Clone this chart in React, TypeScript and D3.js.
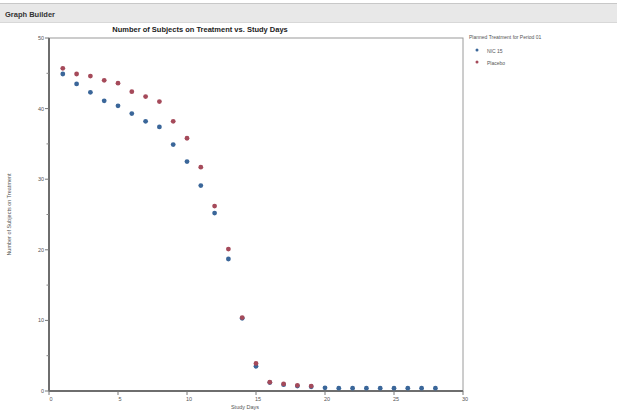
import React from "react";
import * as d3 from "d3";

const days = [1, 2, 3, 4, 5, 6, 7, 8, 9, 10, 11, 12, 13, 14, 15, 16, 17, 18, 19, 20, 21, 22, 23, 24, 25, 26, 27, 28];
const nic15 = [44.9, 43.5, 42.3, 41.1, 40.4, 39.3, 38.2, 37.4, 34.9, 32.5, 29.1, 25.2, 18.7, 10.3, 3.5, 1.2, 0.9, 0.7, 0.6, 0.45, 0.4, 0.4, 0.4, 0.4, 0.4, 0.4, 0.4, 0.4];
const placeboDays = [1, 2, 3, 4, 5, 6, 7, 8, 9, 10, 11, 12, 13, 14, 15, 16, 17, 18, 19];
const placebo = [45.7, 44.9, 44.6, 44.0, 43.6, 42.4, 41.7, 41.0, 38.2, 35.8, 31.7, 26.2, 20.1, 10.4, 3.9, 1.25, 1.0, 0.8, 0.7];
const xTicks = [0, 5, 10, 15, 20, 25, 30];
const yTicks = [0, 10, 20, 30, 40, 50];
const yMinor = [5, 15, 25, 35, 45];
const seriesNames = ["NIC 15", "Placebo"];

const BLUE = "#3a6699";
const RED = "#a54a5a";

export default function App() {
  const left = 49, right = 463, top = 38, bottom = 391;
  const x = d3.scaleLinear().domain([0, 30]).range([left, right]);
  const y = d3.scaleLinear().domain([0, 50]).range([bottom, top]);
  const font = "Liberation Sans, Arial, sans-serif";

  return (
    <svg width={617} height={417} style={{ position: "absolute", left: 0, top: 0, background: "#fff" }} fontFamily={font}>
      <rect x={0} y={0} width={617} height={417} fill="#fff" />
      {/* header bar */}
      <rect x={0} y={3} width={617} height={20} fill="#e8e8e8" />
      <line x1={0} x2={617} y1={3.5} y2={3.5} stroke="#c8c8c8" />
      <line x1={0} x2={617} y1={22.5} y2={22.5} stroke="#d8d8d8" />
      <text x={5} y={17} fontSize={7.5} fontWeight="bold" fill="#333">Graph Builder</text>

      {/* title */}
      <text x={200} y={32} fontSize={7.5} fontWeight="bold" textAnchor="middle" fill="#222">
        Number of Subjects on Treatment vs. Study Days
      </text>

      {/* frame */}
      <rect x={left} y={top} width={right - left} height={bottom - top} fill="none" stroke="#9a9a9a" strokeWidth={1} />
      <line x1={left} x2={left} y1={top} y2={bottom} stroke="#6e6e6e" strokeWidth={2} />
      <line x1={left} x2={right} y1={bottom} y2={bottom} stroke="#6e6e6e" strokeWidth={2} />

      {/* y ticks */}
      {yTicks.map((t) => (
        <g key={"y" + t}>
          <line x1={left - 4} x2={left} y1={y(t)} y2={y(t)} stroke="#777" />
          <text x={left - 5} y={y(t) + 2} fontSize={5.5} textAnchor="end" fill="#555">{t}</text>
        </g>
      ))}
      {yMinor.map((t) => (
        <line key={"ym" + t} x1={left - 2.5} x2={left} y1={y(t)} y2={y(t)} stroke="#888" />
      ))}
      {/* x ticks */}
      {xTicks.map((t) => (
        <g key={"x" + t}>
          <line x1={x(t)} x2={x(t)} y1={bottom} y2={bottom + 4} stroke="#777" />
          <text x={x(t) + 2} y={bottom + 10} fontSize={5.5} textAnchor="middle" fill="#555">{t}</text>
        </g>
      ))}

      {/* axis titles */}
      <text x={245} y={409} fontSize={5.5} textAnchor="middle" fill="#555">Study Days</text>
      <text transform={`translate(11,${(top + bottom) / 2}) rotate(-90)`} fontSize={5.5} textAnchor="middle" fill="#555">
        Number of Subjects on Treatment
      </text>

      {/* points */}
      {days.map((d, i) => (
        <circle key={"n" + d} cx={x(d)} cy={y(nic15[i])} r={2.4} fill={BLUE} />
      ))}
      {placeboDays.map((d, i) => (
        <circle key={"p" + d} cx={x(d)} cy={y(placebo[i])} r={2.4} fill={RED} />
      ))}

      {/* legend */}
      <text x={469} y={39} fontSize={5} fill="#555">Planned Treatment for Period 01</text>
      {seriesNames.map((s, i) => (
        <g key={s}>
          <circle cx={477} cy={50 + i * 12} r={1.5} fill={i === 0 ? BLUE : RED} />
          <text x={487} y={52.5 + i * 12} fontSize={5} fill="#555">{s}</text>
        </g>
      ))}
    </svg>
  );
}
